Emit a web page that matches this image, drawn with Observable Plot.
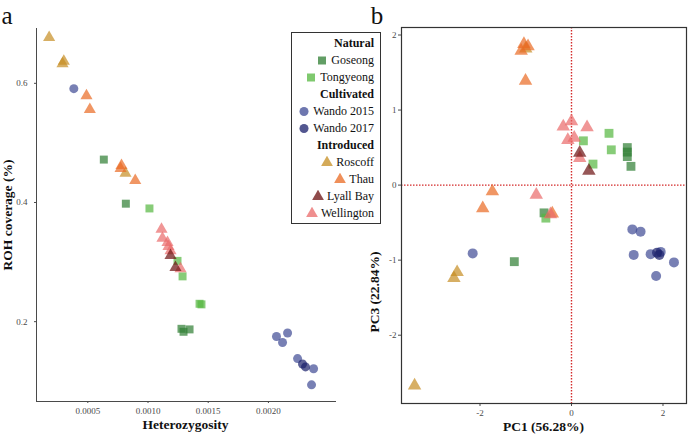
<!DOCTYPE html>
<html><head><meta charset="utf-8">
<script src="https://cdn.jsdelivr.net/npm/d3@7"></script>
<script src="https://cdn.jsdelivr.net/npm/@observablehq/plot@0.6"></script>
<style>
body{margin:0;background:#fff;font-family:"Liberation Serif",serif;}
#root{position:relative;width:689px;height:436px;overflow:hidden;background:#fff;}
.abs{position:absolute;}
.title{font-weight:bold;font-size:13.5px;color:#111;white-space:nowrap;}
.panel{font-size:25px;color:#111;line-height:1.2;}
#legend{position:absolute;left:291px;top:32px;width:90px;height:192px;border:1px solid #333;box-sizing:border-box;padding:1.5px 6px 0 0;background:#fff;}
#legend .row{height:17px;line-height:17px;text-align:right;font-size:12px;color:#111;white-space:nowrap;}
#legend .head{font-weight:bold;}
#legend svg{vertical-align:middle;margin-right:3px;position:relative;top:-1px;}
</style></head><body><div id="root"></div>
<script>
// ---- categories ----
const populations = ["Goseong","Tongyeong","Wando 2015","Wando 2017","Roscoff","Thau","Lyall Bay","Wellington"];
const groups = ["Natural","Cultivated","Introduced"];
const groupOf = ["Natural","Natural","Cultivated","Cultivated","Introduced","Introduced","Introduced","Introduced"];
const popColors = ["#2e7d32","#54b73e","#3e4a94","#1a1f6b","#c68d22","#ea6922","#6b0f0f","#ea6969"];
const popSymbols = ["square","square","circle","circle","triangle","triangle","triangle","triangle"];

// ---- panel a: heterozygosity vs ROH coverage ----
const rohPop = ["Roscoff","Roscoff","Roscoff","Roscoff",
  "Thau","Thau","Thau","Thau","Thau",
  "Goseong","Goseong","Goseong","Goseong","Goseong",
  "Tongyeong","Tongyeong","Tongyeong","Tongyeong","Tongyeong",
  "Wellington","Wellington","Wellington","Wellington","Wellington","Wellington",
  "Lyall Bay","Lyall Bay",
  "Wando 2015","Wando 2015","Wando 2015","Wando 2015","Wando 2015","Wando 2015","Wando 2015",
  "Wando 2017","Wando 2017"];
const rohHet = [0.000179,0.000301,0.000290,0.000813,
  0.000489,0.000517,0.000780,0.000772,0.000894,
  0.000633,0.000816,0.001278,0.001295,0.001345,
  0.001012,0.001245,0.001287,0.001428,0.001444,
  0.001112,0.001120,0.001162,0.001170,0.001187,0.001270,
  0.001187,0.001228,
  0.000384,0.002067,0.002159,0.002117,0.002242,0.002375,0.002358,
  0.002283,0.002308];
const rohCov = [0.677,0.637,0.633,0.449,
  0.579,0.556,0.462,0.457,0.437,
  0.472,0.398,0.188,0.183,0.187,
  0.390,0.302,0.276,0.230,0.229,
  0.355,0.340,0.333,0.326,0.319,0.289,
  0.311,0.291,
  0.591,0.175,0.181,0.165,0.138,0.121,0.094,
  0.129,0.124];
const hetTicks = [0.0005,0.0010,0.0015,0.0020];
const rohTicks = [0.2,0.4,0.6];

// ---- panel b: PCA ----
const pcaPop = ["Roscoff","Roscoff","Roscoff","Roscoff",
  "Thau","Thau","Thau","Thau","Thau","Thau","Thau",
  "Goseong","Goseong","Goseong","Goseong","Goseong","Goseong",
  "Tongyeong","Tongyeong","Tongyeong","Tongyeong","Tongyeong",
  "Wellington","Wellington","Wellington","Wellington","Wellington","Wellington","Wellington","Wellington",
  "Lyall Bay","Lyall Bay",
  "Wando 2015","Wando 2015","Wando 2015","Wando 2015","Wando 2015","Wando 2015","Wando 2015","Wando 2015",
  "Wando 2017","Wando 2017"];
const pc1 = [-1.00,-3.43,-2.50,-2.57,
  -1.04,-0.95,-1.10,-1.005,-1.73,-1.94,-0.42,
  -0.60,-1.25,1.22,1.22,1.22,1.30,
  0.82,0.87,0.26,0.47,-0.56,
  -0.18,0.00,0.34,-0.08,0.06,0.18,-0.77,-0.46,
  0.18,0.38,
  -2.16,1.33,1.51,1.36,1.73,1.95,2.24,1.85,
  1.87,1.92];
const pc3 = [1.82,-2.67,-1.16,-1.24,
  1.88,1.85,1.79,1.39,-0.085,-0.31,-0.38,
  -0.37,-1.02,0.50,0.44,0.38,0.25,
  0.69,0.47,0.59,0.28,-0.44,
  0.78,0.85,0.77,0.60,0.63,0.36,-0.13,-0.39,
  0.43,0.19,
  -0.91,-0.59,-0.62,-0.93,-0.92,-0.89,-1.03,-1.21,
  -0.90,-0.93];
const pc1Ticks = [-2,0,2];
const pc3Ticks = [-2,-1,0,1,2];

// ---- build ----
const root = document.getElementById("root");
const rohData = rohPop.map((p,i)=>({pop:p, het:rohHet[i], roh:rohCov[i]}));
const pcaData = pcaPop.map((p,i)=>({pop:p, pc1:pc1[i], pc3:pc3[i]}));
const baseStyle = {fontFamily:"'Liberation Serif', serif", fontSize:"9px", color:"#4a4a4a", background:"transparent", overflow:"visible"};

const plotA = Plot.plot({
  width:380, height:436, marginLeft:36, marginRight:45, marginTop:28, marginBottom:35,
  style:baseStyle,
  x:{domain:[0.000074,0.002557], ticks:hetTicks, tickFormat:d3.format(".4f"), tickSize:2, tickPadding:4, line:true, label:null},
  y:{domain:[0.066,0.692], ticks:rohTicks, tickFormat:d3.format(".1f"), tickSize:2, tickPadding:7, line:true, label:null},
  color:{domain:populations, range:popColors},
  symbol:{domain:populations, range:popSymbols},
  marks:[
    Plot.dot(rohData,{x:"het", y:"roh", fill:"pop", symbol:"pop", r:4.5, fillOpacity:0.7})
  ]
});
plotA.classList.add("abs"); plotA.style.left="0px"; plotA.style.top="0px";
root.appendChild(plotA);

const plotB = Plot.plot({
  width:309, height:436, marginLeft:21, marginRight:3, marginTop:27, marginBottom:33,
  style:baseStyle,
  x:{domain:[-3.716,2.514], ticks:pc1Ticks, tickFormat:d=>String(d), tickSize:3, tickPadding:3, label:null},
  y:{domain:[-2.91,2.10], ticks:pc3Ticks, tickFormat:d=>String(d), tickSize:3, tickPadding:2, label:null},
  color:{domain:populations, range:popColors},
  symbol:{domain:populations, range:popSymbols},
  marks:[
    Plot.ruleX([0],{stroke:"#d42a2a", strokeDasharray:"1.5,1.5", strokeWidth:1.4}),
    Plot.ruleY([0],{stroke:"#d42a2a", strokeDasharray:"1.5,1.5", strokeWidth:1.4}),
    Plot.dot(pcaData,{x:"pc1", y:"pc3", fill:"pop", symbol:"pop", r:5, fillOpacity:0.7}),
    Plot.frame({stroke:"#333", strokeWidth:1.2})
  ]
});
plotB.classList.add("abs"); plotB.style.left="380px"; plotB.style.top="0px";
root.appendChild(plotB);

// ---- text ----
function addText(txt, cls, x, y, rotate){
  const d = document.createElement("div");
  d.className = "abs " + cls;
  d.textContent = txt;
  d.style.left = x+"px"; d.style.top = y+"px";
  d.style.transform = "translate(-50%,-50%)" + (rotate ? " rotate(-90deg)" : "");
  root.appendChild(d);
}
addText("Heterozygosity","title",185.5,425,false);
addText("ROH coverage (%)","title",8,215,true);
addText("PC1 (56.28%)","title",543.5,427,false);
addText("PC3 (22.84%)","title",375,292,true);
addText("a","panel",7,16,false);
addText("b","panel",377,16,false);

// ---- legend ----
const legend = document.createElement("div");
legend.id = "legend";
const symMap = {square:d3.symbolSquare, circle:d3.symbolCircle, triangle:d3.symbolTriangle};
const symSize = {square:64, circle:64, triangle:60};
groups.forEach(g=>{
  const h = document.createElement("div");
  h.className="row head"; h.textContent=g; legend.appendChild(h);
  populations.forEach((p,i)=>{
    if(groupOf[i]!==g) return;
    const r = document.createElement("div"); r.className="row";
    const svg = d3.create("svg").attr("width",12).attr("height",12);
    svg.append("path").attr("transform","translate(6,6.5)")
      .attr("d", d3.symbol().type(symMap[popSymbols[i]]).size(symSize[popSymbols[i]])())
      .attr("fill", popColors[i]).attr("fill-opacity",0.75);
    r.appendChild(svg.node());
    r.appendChild(document.createTextNode(p));
    legend.appendChild(r);
  });
});
root.appendChild(legend);
</script>
</body></html>
